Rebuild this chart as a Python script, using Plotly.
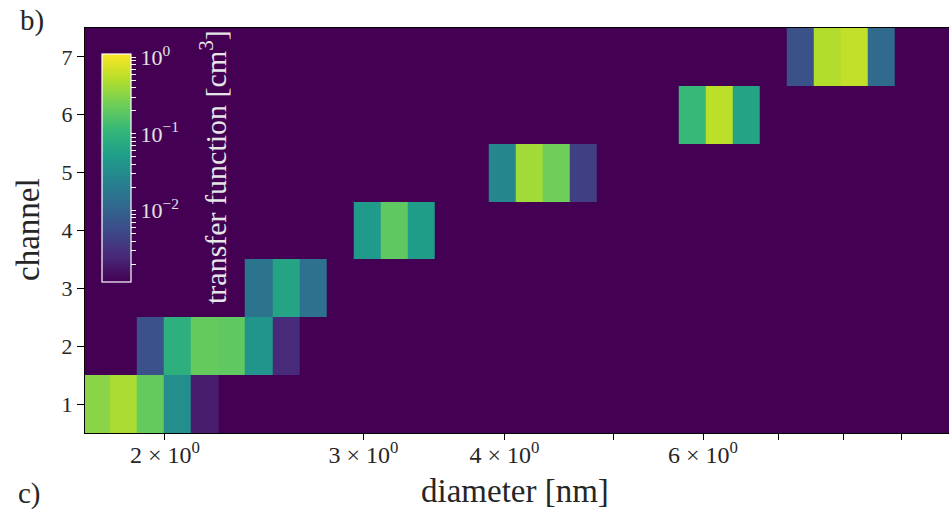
import numpy as np
import plotly.graph_objects as go

# ---------------- data ----------------
channels = [1, 2, 3, 4, 5, 6, 7]

# diameter bin edges [nm] (log-spaced grid)
diameter_edges_nm = [1.691, 1.788, 1.889, 1.996, 2.110, 2.230, 2.356, 2.490, 2.632,
                     2.781, 2.939, 3.106, 3.283, 3.469, 3.667, 3.875, 4.095, 4.328,
                     4.574, 4.834, 5.108, 5.398, 5.705, 6.029, 6.372, 6.734, 7.116,
                     7.521, 7.948, 8.400, 8.877, 9.381, 9.914]

# transfer function [cm^3] per channel and diameter bin (0 = empty)
tf_ch1 = [0.32, 0.45, 0.21, 0.034, 0.0020, 0, 0, 0, 0, 0, 0, 0, 0, 0, 0, 0,
          0, 0, 0, 0, 0, 0, 0, 0, 0, 0, 0, 0, 0, 0, 0, 0]
tf_ch2 = [0, 0, 0.0065, 0.087, 0.21, 0.20, 0.041, 0.0027, 0, 0, 0, 0, 0, 0, 0, 0,
          0, 0, 0, 0, 0, 0, 0, 0, 0, 0, 0, 0, 0, 0, 0, 0]
tf_ch3 = [0, 0, 0, 0, 0, 0, 0.0158, 0.062, 0.0148, 0, 0, 0, 0, 0, 0, 0,
          0, 0, 0, 0, 0, 0, 0, 0, 0, 0, 0, 0, 0, 0, 0, 0]
tf_ch4 = [0, 0, 0, 0, 0, 0, 0, 0, 0, 0, 0.047, 0.198, 0.0505, 0, 0, 0,
          0, 0, 0, 0, 0, 0, 0, 0, 0, 0, 0, 0, 0, 0, 0, 0]
tf_ch5 = [0, 0, 0, 0, 0, 0, 0, 0, 0, 0, 0, 0, 0, 0, 0, 0.0273,
          0.421, 0.243, 0.0043, 0, 0, 0, 0, 0, 0, 0, 0, 0, 0, 0, 0, 0]
tf_ch6 = [0, 0, 0, 0, 0, 0, 0, 0, 0, 0, 0, 0, 0, 0, 0, 0,
          0, 0, 0, 0, 0, 0, 0.115, 0.553, 0.062, 0, 0, 0, 0, 0, 0, 0]
tf_ch7 = [0, 0, 0, 0, 0, 0, 0, 0, 0, 0, 0, 0, 0, 0, 0, 0,
          0, 0, 0, 0, 0, 0, 0, 0, 0, 0, 0.0065, 0.499, 0.592, 0.0124, 0, 0]

x_tick_values = [2, 3, 4, 5, 6, 7, 8, 9]
x_tick_labels = ["2 × 10<sup>0</sup>", "3 × 10<sup>0</sup>", "4 × 10<sup>0</sup>", "",
                 "6 × 10<sup>0</sup>", "", "", ""]
cbar_ticks = [2e-3, 3e-3, 4e-3, 5e-3, 6e-3, 7e-3, 8e-3, 9e-3, 1e-2,
              2e-2, 3e-2, 4e-2, 5e-2, 6e-2, 7e-2, 8e-2, 9e-2, 1e-1,
              2e-1, 3e-1, 4e-1, 5e-1, 6e-1, 7e-1, 8e-1, 9e-1, 1e0]
cbar_tick_labels = ["", "", "", "", "", "", "", "", "10<sup>−2</sup>",
                    "", "", "", "", "", "", "", "", "10<sup>−1</sup>",
                    "", "", "", "", "", "", "", "", "10<sup>0</sup>"]
color_min, color_max = 1.17e-3, 1.10

# ---------------- figure ----------------
rows = [tf_ch1, tf_ch2, tf_ch3, tf_ch4, tf_ch5, tf_ch6, tf_ch7]
z = [[float(np.log10(v)) if v > 0 else None for v in r] for r in rows]

W, H = 949, 510
L, R, T, B = 85, 0, 28, 77
pw, ph = W - L - R, H - T - B

def px_x(px):
    return (px - L) / pw

def px_y(py):
    return (H - B - py) / ph

FONT = "Liberation Serif, DejaVu Serif, serif"
zmin, zmax = float(np.log10(color_min)), float(np.log10(color_max))

fig = go.Figure()
fig.add_trace(go.Heatmap(
    x=diameter_edges_nm, y=channels, z=z,
    colorscale="Viridis", zmin=zmin, zmax=zmax,
    hoverongaps=False,
    colorbar=dict(
        xref="paper", yref="paper",
        x=px_x(102), xanchor="left", xpad=0,
        y=px_y(54), yanchor="top", ypad=0,
        lenmode="pixels", len=228,
        thicknessmode="pixels", thickness=29,
        outlinecolor="white", outlinewidth=1.2,
        ticks="outside", tickcolor="white", tickwidth=1, ticklen=5,
        tickvals=[float(np.log10(v)) for v in cbar_ticks],
        ticktext=cbar_tick_labels,
        tickfont=dict(family=FONT, size=22, color="#e2e2e2"),
    ),
))

fig.update_layout(
    width=W, height=H,
    margin=dict(l=L, r=R, t=T, b=B, autoexpand=False),
    paper_bgcolor="white", plot_bgcolor="#440154",
    font=dict(family=FONT, color="#262626"),
    showlegend=False,
    xaxis=dict(
        type="log",
        range=[float(np.log10(1.699)), float(np.log10(9.914))],
        tickvals=x_tick_values, ticktext=x_tick_labels,
        ticks="outside", ticklen=6, tickcolor="black", tickwidth=1,
        ticklabelstandoff=-6,
        tickfont=dict(family=FONT, size=24, color="#262626"),
        showgrid=False, zeroline=False,
        showline=True, linecolor="black", linewidth=1.3, mirror=True,
    ),
    yaxis=dict(
        range=[0.5, 7.5],
        tickvals=channels,
        ticks="outside", ticklen=7, tickcolor="black", tickwidth=1,
        tickfont=dict(family=FONT, size=22, color="#262626"),
        showgrid=False, zeroline=False,
        showline=True, linecolor="black", linewidth=1.3,
    ),
    annotations=[
        dict(text="b)", x=px_x(32), y=px_y(20), xref="paper", yref="paper",
             showarrow=False, xanchor="center", yanchor="middle",
             font=dict(family=FONT, size=29, color="#262626")),
        dict(text="c)", x=px_x(30), y=px_y(493), xref="paper", yref="paper",
             showarrow=False, xanchor="center", yanchor="middle",
             font=dict(family=FONT, size=29, color="#262626")),
        dict(text="channel", x=px_x(28), y=px_y(230), xref="paper", yref="paper",
             showarrow=False, xanchor="center", yanchor="middle", textangle=-90,
             font=dict(family=FONT, size=33, color="#262626")),
        dict(text="diameter [nm]", x=px_x(515), y=px_y(491), xref="paper", yref="paper",
             showarrow=False, xanchor="center", yanchor="middle",
             font=dict(family=FONT, size=33, color="#262626")),
        dict(text="transfer function [cm<sup>3</sup>]", x=px_x(213), y=px_y(167),
             xref="paper", yref="paper",
             showarrow=False, xanchor="center", yanchor="middle", textangle=-90,
             font=dict(family=FONT, size=30, color="#e6e6e6")),
    ],
)

fig.write_html("out.html")
